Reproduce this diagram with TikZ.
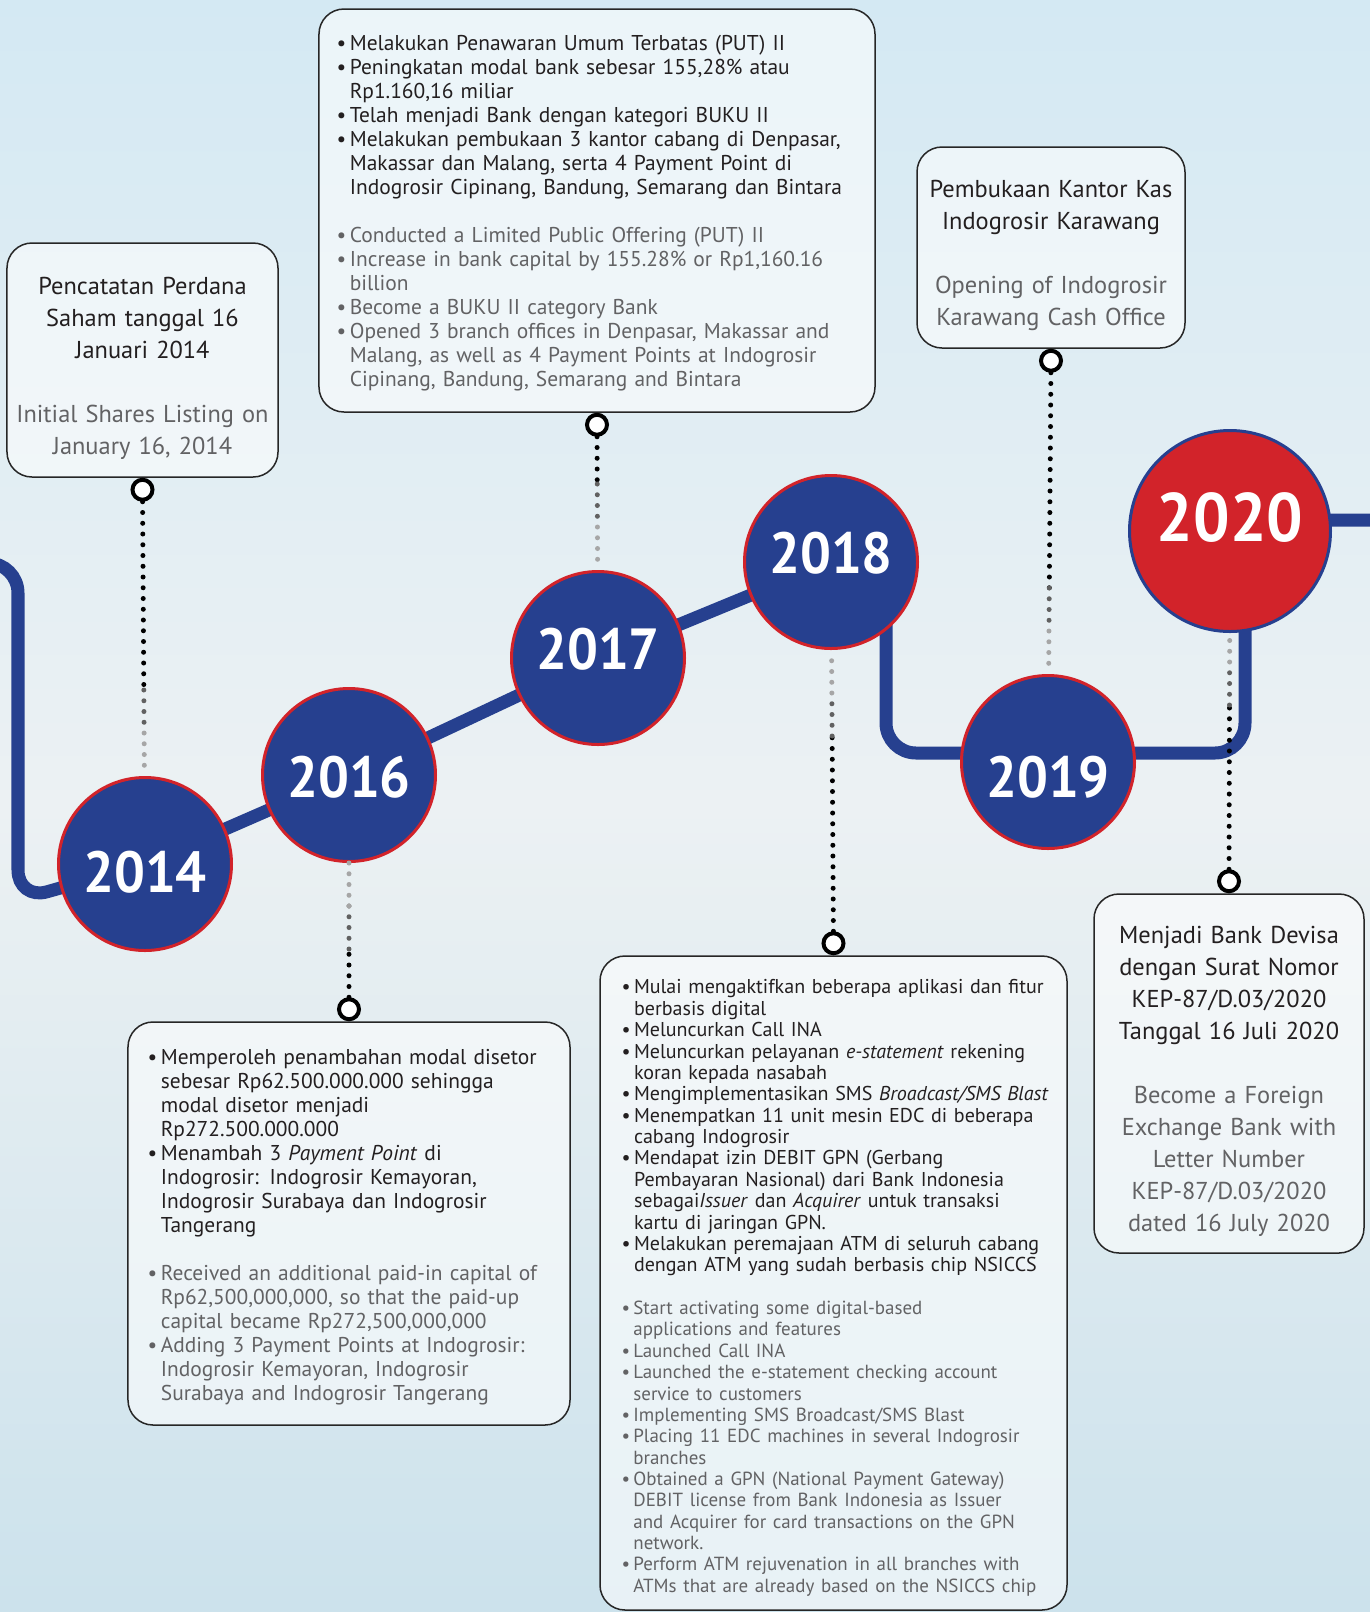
\documentclass[tikz,border=0pt]{standalone}
\usepackage{fontspec}
\setmainfont{PT Sans}
\newfontfamily\yearfont{PT Sans}[FakeStretch=0.94]
\usepackage{tikz}
\usetikzlibrary{positioning, calc, backgrounds}
\definecolor{navy}{RGB}{38,64,143}
\definecolor{tred}{RGB}{210,35,42}
\definecolor{ink}{RGB}{35,31,32}
\definecolor{engray}{RGB}{98,98,100}
\definecolor{skytop}{RGB}{212,233,243}
\definecolor{skymid}{RGB}{236,241,243}
\definecolor{skybot}{RGB}{204,226,236}
\newcommand{\Bul}{\makebox[0.62em][l]{\textbullet}}
\newcommand{\Cnt}{\hspace*{0.62em}}
\newcommand{\En}{\color{engray}}
\tikzset{
  yr/.style      ={draw=tred, fill=navy, circle, minimum size=34.6mm, inner sep=0pt, line width=0.6mm},
  yrnow/.style   ={draw=navy, fill=tred, circle, minimum size=40.2mm, inner sep=0pt, line width=0.6mm},
  yrlbl/.style   ={font=\yearfont\fontsize{33}{33}\selectfont\bfseries, text=white},
  yrnowlbl/.style={font=\yearfont\fontsize{39}{39}\selectfont\bfseries, text=white},
  card/.style    ={draw=black!85, rounded corners=5mm, fill=white, fill opacity=0.55, line width=0.3mm},
  bigtxt/.style  ={font=\fontsize{13.9}{18.2}\selectfont, align=center, inner sep=0pt, text=ink},
  midtxt/.style  ={font=\fontsize{12.2}{13.66}\selectfont, align=left, inner sep=0pt, text=ink, anchor=west},
  smltxt/.style  ={font=\fontsize{11.4}{12.16}\selectfont, align=left, inner sep=0pt, text=ink, anchor=west},
  eye/.style     ={draw, circle, minimum size=4mm, inner sep=0pt, line width=0.8mm, fill=white},
  track/.style   ={draw=navy, line width=2.6mm, rounded corners=6mm},
  dotline/.style ={line width=1mm, line cap=round, dash pattern=on 0pt off 2.15mm},
  dotmid/.style  ={dotline, black!62},
  dotfade/.style ={dotline, black!35},
}

\begin{document}
\begin{tikzpicture}[x=0.2mm, y=-0.2mm]
  \useasboundingbox (0,0) rectangle (1370,1612);

  % year circles
  \node[yr, label={[yrlbl, yshift=-1.6mm]center:2014}] (yr14) at (145,864) {};
  \node[yr, label={[yrlbl, yshift=-0.4mm]center:2016}] (yr16) at (349,775) {};
  \node[yr, label={[yrlbl, yshift=1.8mm]center:2017}] (yr17) at (598,658) {};
  \node[yr, label={[yrlbl, yshift=1.8mm]center:2018}] (yr18) at (831,562) {};
  \node[yr, label={[yrlbl, yshift=-3mm]center:2019}] (yr19) at (1048,762) {};
  \node[yrnow, label={[yrnowlbl, yshift=2.6mm]center:2020}] (yr20) at (1230,531) {};

  % cards
  \node[card, minimum width=54.2mm, minimum height=46.8mm] (c14) at (142.5,360) {};
  \node[card, minimum width=111.2mm, minimum height=80.6mm] (c17) at (597,210.5) {};
  \node[card, minimum width=53.6mm, minimum height=40.2mm] (c19) at (1051,247.5) {};
  \node[card, minimum width=88.4mm, minimum height=80.6mm] (c16) at (349,1223.5) {};
  \node[card, minimum width=93.4mm, minimum height=130.8mm] (c18) at (833.5,1283) {};
  \node[card, minimum width=54mm, minimum height=71.8mm] (c20) at (1229,1073.5) {};

  \node[bigtxt, text width=53mm, yshift=-1.6mm] (t14) at (c14)
    {Pencatatan Perdana\\Saham tanggal 16\\Januari 2014\\[\baselineskip]
     {\En Initial Shares Listing on\\January 16, 2014}};
  \node[midtxt, text width=106mm, xshift=3.6mm, yshift=-0.6mm] (t17) at (c17.west)
    {\Bul Melakukan Penawaran Umum Terbatas (PUT) II\\
     \Bul Peningkatan modal bank sebesar 155,28\% atau\\
     \Cnt Rp1.160,16 miliar\\
     \Bul Telah menjadi Bank dengan kategori BUKU II\\
     \Bul Melakukan pembukaan 3 kantor cabang di Denpasar,\\
     \Cnt Makassar dan Malang, serta 4 Payment Point di\\
     \Cnt Indogrosir Cipinang, Bandung, Semarang dan Bintara\\[\baselineskip]
     {\En \Bul Conducted a Limited Public Offering (PUT) II\\
     \Bul Increase in bank capital by 155.28\% or Rp1,160.16\\
     \Cnt billion\\
     \Bul Become a BUKU II category Bank\\
     \Bul Opened 3 branch offices in Denpasar, Makassar and\\
     \Cnt Malang, as well as 4 Payment Points at Indogrosir\\
     \Cnt Cipinang, Bandung, Semarang and Bintara}};
  \node[bigtxt, text width=52mm, yshift=-1.6mm] (t19) at (c19)
    {Pembukaan Kantor Kas\\Indogrosir Karawang\\[\baselineskip]
     {\En Opening of Indogrosir\\Karawang Cash Office}};
  \node[midtxt, text width=84mm, xshift=4mm, yshift=-0.7mm] (t16) at (c16.west)
    {\Bul Memperoleh penambahan modal disetor\\
     \Cnt sebesar Rp62.500.000.000 sehingga\\
     \Cnt modal disetor menjadi\\
     \Cnt Rp272.500.000.000\\
     \Bul Menambah 3 \textit{Payment Point} di\\
     \Cnt Indogrosir: Indogrosir Kemayoran,\\
     \Cnt Indogrosir Surabaya dan Indogrosir\\
     \Cnt Tangerang\\[\baselineskip]
     {\En \Bul Received an additional paid-in capital of\\
     \Cnt Rp62,500,000,000, so that the paid-up\\
     \Cnt capital became Rp272,500,000,000\\
     \Bul Adding 3 Payment Points at Indogrosir:\\
     \Cnt Indogrosir Kemayoran, Indogrosir\\
     \Cnt Surabaya and Indogrosir Tangerang}};
  \node[smltxt, text width=88.5mm, xshift=4.4mm, yshift=-1mm] (t18) at (c18.west)
    {\Bul Mulai mengaktifkan beberapa aplikasi dan fitur\\
     \Cnt berbasis digital\\
     \Bul Meluncurkan Call INA\\
     \Bul Meluncurkan pelayanan \textit{e-statement} rekening\\
     \Cnt koran kepada nasabah\\
     \Bul Mengimplementasikan SMS \textit{Broadcast/SMS Blast}\\
     \Bul Menempatkan 11 unit mesin EDC di beberapa\\
     \Cnt cabang Indogrosir\\
     \Bul Mendapat izin DEBIT GPN (Gerbang\\
     \Cnt Pembayaran Nasional) dari Bank Indonesia\\
     \Cnt sebagai\textit{Issuer} dan \textit{Acquirer} untuk transaksi\\
     \Cnt kartu di jaringan GPN.\\
     \Bul Melakukan peremajaan ATM di seluruh cabang\\
     \Cnt dengan ATM yang sudah berbasis chip NSICCS\\[\baselineskip]
     {\En\fontsize{10.8}{12.16}\selectfont \Bul Start activating some digital-based\\
     \Cnt applications and features\\
     \Bul Launched Call INA\\
     \Bul Launched the e-statement checking account\\
     \Cnt service to customers\\
     \Bul Implementing SMS Broadcast/SMS Blast\\
     \Bul Placing 11 EDC machines in several Indogrosir\\
     \Cnt branches\\
     \Bul Obtained a GPN (National Payment Gateway)\\
     \Cnt DEBIT license from Bank Indonesia as Issuer\\
     \Cnt and Acquirer for card transactions on the GPN\\
     \Cnt network.\\
     \Bul Perform ATM rejuvenation in all branches with\\
     \Cnt ATMs that are already based on the NSICCS chip}};
  \node[bigtxt, text width=52.5mm, yshift=-1.6mm] (t20) at (c20)
    {Menjadi Bank Devisa\\dengan Surat Nomor\\KEP-87/D.03/2020\\Tanggal 16 Juli 2020\\[\baselineskip]
     {\En Become a Foreign\\Exchange Bank with\\Letter Number\\KEP-87/D.03/2020\\dated 16 July 2020}};

  % rings under / over the cards
  \node[eye, below=0mm of c14] (r14) {};
  \node[eye, above=0mm of c16] (r16) {};
  \node[eye, below=0mm of c17] (r17) {};
  \node[eye, above=0mm of c18] (r18) {};
  \node[eye, below=0mm of c19] (r19) {};
  \node[eye, above=0mm of c20] (r20) {};

  % dotted leads, paler towards the year circle
  \foreach \y in {14,16,17,18,19,20} {
    \coordinate (fa\y) at ($(yr\y)!34.8mm!(r\y)$);
    \coordinate (fb\y) at ($(yr\y)!26.2mm!(r\y)$);
    \draw[dotline] (r\y) -- (fa\y);
    \draw[dotmid] (fa\y) -- (fb\y);
    \draw[dotfade] (fb\y) -- (yr\y);
  }

  \begin{scope}[on background layer]
    \shade[top color=skytop, bottom color=skybot, middle color=skymid] (0,0) rectangle (1370,1612);
    \draw[track] (-40,563) -- (18,563) -- (18,900) -- (yr14.center) -- (yr16.center) -- (yr17.center)
      -- (yr18.center) -- (886,562) -- (886,753) -- (1245,753) -- (1245,520) -- (1420,520);
  \end{scope}
\end{tikzpicture}
\end{document}
